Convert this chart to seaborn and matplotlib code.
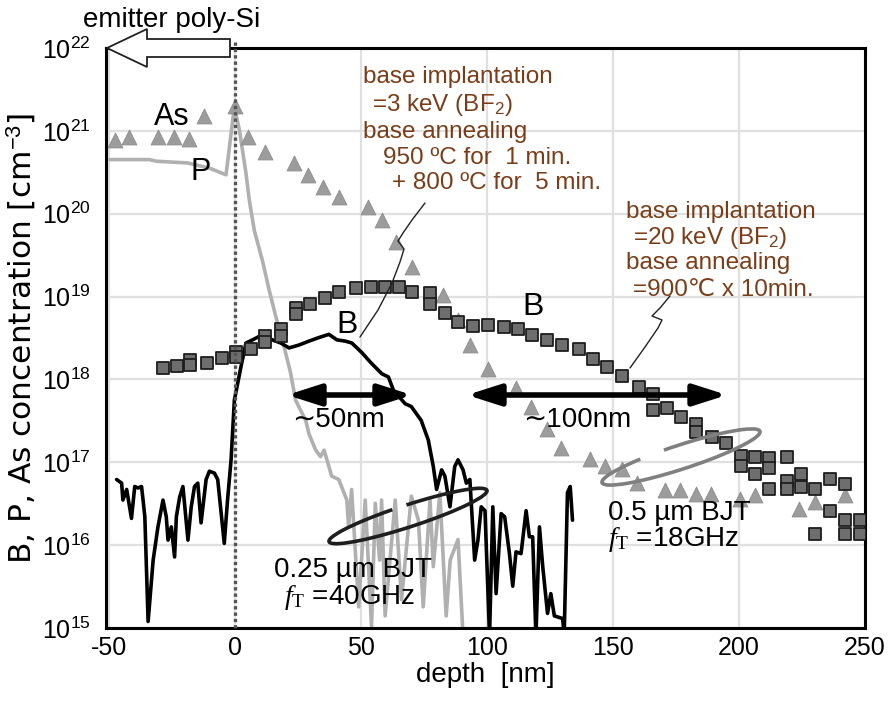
import matplotlib
matplotlib.use("Agg")
import matplotlib.pyplot as plt
import matplotlib.transforms as mtransforms
from matplotlib.patches import Arc, Polygon, FancyArrowPatch
from matplotlib.lines import Line2D
from matplotlib.ticker import MultipleLocator, LogLocator, NullFormatter
import seaborn as sns

# ---------------- data ----------------
as_depth = [-47.5, -42, -30.5, -24, -18, -12, 0, 5.5, 12, 23.5, 29, 35, 41.5,
            53, 58.5, 64, 70.5, 82.5, 88.5, 93.5, 100.5, 111.5, 117.5, 124,
            129.5, 141, 147, 153.5, 159.5, 170.5, 176.5, 183, 189, 200.5,
            206.5, 224, 230, 242]
as_conc = [7.8e20, 8.5e20, 8.5e20, 8.5e20, 7.9e20, 1.5e21, 2.0e21, 8.5e20,
           5.6e20, 4.1e20, 2.9e20, 2.1e20, 1.6e20, 1.2e20, 8.3e19, 4.6e19,
           2.3e19, 1.05e19, 5.2e18, 2.6e18, 1.35e18, 7.9e17, 4.6e17, 2.5e17,
           1.5e17, 1.1e17, 8.9e16, 8.3e16, 5.6e16, 4.6e16, 4.6e16, 4.1e16,
           4.1e16, 3.6e16, 4.0e16, 2.75e16, 3.3e16, 4.0e16]

b05_depth = [-28.5, -23, -17.5, -17.5, -11, -5, 0.5, 0.5, 6.5, 12, 12, 18.3,
             18.3, 24.5, 24.5, 30, 36, 41.5, 48, 54, 59.5, 65, 70.5, 77.5,
             77.5, 83.5, 88.5, 94.5, 100.5, 107, 112.5, 118, 124, 130, 136.5,
             142, 147.5, 153.5, 160.5, 166, 166, 171.5, 177, 183, 183, 189.5,
             195, 201, 201, 206.5, 206.5, 212, 212, 212, 219, 219, 219,
             224.5, 224.5, 230, 230, 236, 236, 242, 242, 242, 248, 248]
b05_conc = [1.38e18, 1.45e18, 1.7e18, 1.48e18, 1.58e18, 1.8e18, 2.15e18,
            1.85e18, 2.35e18, 3.3e18, 2.8e18, 4.1e18, 3.3e18, 7.2e18, 6.2e18,
            8.1e18, 9.5e18, 1.15e19, 1.26e19, 1.29e19, 1.29e19, 1.32e19,
            1.15e19, 1.1e19, 8.1e18, 6.3e18, 5.0e18, 4.4e18, 4.6e18, 4.3e18,
            4.1e18, 3.4e18, 3.0e18, 2.6e18, 2.3e18, 1.74e18, 1.41e18, 1.1e18,
            8.1e17, 6.6e17, 4.3e17, 4.5e17, 3.5e17, 2.9e17, 2.35e17, 2.0e17,
            1.7e17, 1.2e17, 9.1e16, 1.15e17, 7.2e16, 1.12e17, 8.5e16, 4.8e16,
            1.15e17, 6.0e16, 4.8e16, 7.2e16, 5.1e16, 4.8e16, 1.35e16, 6.3e16,
            2.6e16, 5.5e16, 2.0e16, 1.35e16, 2.0e16, 1.35e16]

b025_depth = [-46.8, -44.8, -44.3, -42.8, -40.9, -39.6, -38.3, -36.9, -36.3,
              -35.6, -34.3, -32.3, -30.4, -28.4, -27.1, -26.4, -25.1, -23.8,
              -23.1, -21.8, -20.5, -18.5, -17.2, -15.9, -14.6, -13.3, -11.3,
              -10.0, -8.0, -6.7, -4.1, -2.8, -1.4, -0.1, 2.5, 4.5, 7.1, 9.7,
              12.4, 15.0, 18.3, 21.6, 25.5, 29.5, 33.4, 37.4, 40.6, 43.9,
              46.5, 50.5, 54.4, 58.4, 61.0, 63.0, 67.6, 70.1, 74.0, 76.8,
              78.8, 80.1, 82.1, 83.4, 85.4, 87.3, 88.6, 90.6, 91.9, 93.3,
              95.2, 96.5, 97.8, 99.3, 101.1, 102.4, 103.7, 105.7, 107.1,
              109.0, 110.3, 111.6, 113.6, 115.6, 116.9, 118.2, 119.5, 120.9,
              122.2, 124.1, 125.4, 126.8, 130.1, 130.7, 132.0, 133.1, 134.0]
b025_conc = [6.2e16, 5.6e16, 3.5e16, 4.7e16, 2.1e16, 5.1e16, 4.9e16, 5.1e16,
             3.5e16, 2.2e16, 1.2e15, 6.6e15, 1.66e16, 3.5e16, 2.2e16, 1.15e16,
             1.66e16, 7.2e15, 2.2e16, 3.8e16, 5.1e16, 1.15e16, 2.9e16,
             5.1e16, 5.6e16, 1.86e16, 6.2e16, 7.8e16, 7.4e16, 6.2e16, 1.05e16,
             3.5e16, 1.07e17, 5.6e17, 1.41e18, 2.75e18, 3.0e18, 3.3e18,
             3.3e18, 3.0e18, 2.75e18, 2.4e18, 2.6e18, 2.9e18, 3.2e18, 3.5e18,
             3.0e18, 2.9e18, 2.75e18, 2.1e18, 1.55e18, 1.17e18, 1.07e18,
             7.4e17, 5.1e17, 4.7e17, 3.2e17, 1.86e17, 8.9e16, 4.7e16, 8.1e16,
             6.8e16, 2.9e16, 8.9e16, 1.07e17, 8.1e16, 5.6e16, 6.2e16, 6.6e15,
             1.15e16, 2.9e16, 2.6e16, 8.0e14, 2.9e16, 2.6e15, 2.4e16, 2.2e16,
             7.9e15, 3.2e15, 8.3e15, 7.9e15, 2.6e16, 1.26e16, 1.26e16, 8.0e14,
             1.66e16, 5.5e15, 1.5e15, 2.6e15, 1.4e15, 1.3e15, 8.0e14, 4.3e16,
             5.1e16, 2.0e16]

p_depth = [-49.4, -33.8, -31.0, -18.7, -10.0, -3.4, -0.1, 1.9, 4.5, 5.8, 7.8,
           11.0, 13.7, 16.3, 19.6, 22.2, 24.2, 28.2, 29.5, 32.1, 34.1, 35.5,
           37.4, 38.5, 41.3, 44.5, 45.2, 46.4, 49.2, 51.8, 54.3, 55.8, 57.5,
           58.3, 59.7, 63.7, 66.2, 70.1, 72.9, 74.8, 77.5, 78.8, 81.4, 83.9,
           85.5, 88.6, 90.6]
p_conc = [4.5e20, 4.5e20, 4.3e20, 4.1e20, 3.55e20, 2.95e20, 1.95e21, 1.02e21,
          3.1e20, 1.48e20, 6.3e19, 2.75e19, 1.2e19, 5.8e18, 2.5e18, 1.2e18,
          5.6e17, 3.2e17, 2.2e17, 1.41e17, 1.17e17, 1.4e17, 8.9e16, 6.8e16,
          6.2e16, 3.5e16, 1.66e16, 4.7e16, 1.8e15, 3.5e16, 1.05e15, 3.2e16,
          6.6e15, 3.5e16, 1.4e15, 3.5e16, 2.2e15, 3.9e16, 2.0e16, 1.8e15,
          3.5e16, 5.5e15, 4.3e16, 1.4e15, 6.6e15, 1.17e16, 8.0e14]

x_ticks = [-50, 0, 50, 100, 150, 200, 250]

# ---------------- style ----------------
sns.set_theme(style="white")
plt.rcParams['font.family'] = ['Liberation Sans', 'DejaVu Sans']
plt.rcParams['text.color'] = 'black'
plt.rcParams['axes.labelcolor'] = 'black'
plt.rcParams['axes.unicode_minus'] = False
plt.rcParams['mathtext.fontset'] = 'custom'
plt.rcParams['mathtext.rm'] = 'Liberation Serif'
plt.rcParams['mathtext.it'] = 'Liberation Serif:italic'
plt.rcParams['mathtext.sf'] = 'Liberation Sans'

W, H = 893, 704
fig = plt.figure(figsize=(W / 100, H / 100), dpi=100)
L, R, T, B = 106, 865, 48, 628
ax = fig.add_axes([L / W, 1 - B / H, (R - L) / W, (B - T) / H])


def fx(px):
    return px / W


def fy(py):
    return 1 - py / H


ax.set_yscale('log')

sns.lineplot(x=p_depth, y=p_conc, ax=ax, sort=False, estimator=None,
             color='#b0b0b0', lw=2.6, zorder=2)
sns.lineplot(x=b025_depth, y=b025_conc, ax=ax, sort=False, estimator=None,
             color='black', lw=2.6, zorder=3)
sns.scatterplot(x=as_depth, y=as_conc, ax=ax, marker='^', s=115,
                color='#9c9c9c', edgecolor='#8c8c8c', linewidth=0.6, zorder=4)
sns.scatterplot(x=b05_depth, y=b05_conc, ax=ax, marker='s', s=85,
                color='#6e6e6e', edgecolor='#1e1e1e', linewidth=1.3, zorder=5)

ax.set_xlim(-51, 248.5)
ax.set_ylim(1e15, 1e22)
ax.set_xticks(x_ticks)
ax.set_xticklabels([str(t) for t in x_ticks])
ax.xaxis.set_minor_locator(MultipleLocator(10))
ax.yaxis.set_major_locator(LogLocator(base=10, numticks=20))
ax.yaxis.set_minor_locator(LogLocator(base=10, subs=range(2, 10), numticks=100))
ax.yaxis.set_minor_formatter(NullFormatter())
ax.xaxis.get_offset_text().set_visible(False)
ax.yaxis.get_offset_text().set_visible(False)
ax.grid(True, which='major', color='#e0e0e0', lw=1.6)
ax.set_axisbelow(True)
ax.tick_params(axis='both', which='both', direction='in', top=False,
               right=False, colors='black', labelsize=18)
ax.tick_params(axis='both', which='major', length=7, width=1.6)
ax.tick_params(axis='x', which='major', pad=6)
ax.tick_params(axis='y', which='major', pad=11)
ax.tick_params(axis='both', which='minor', length=4, width=1.2)
for s in ax.spines.values():
    s.set_color('black')
    s.set_linewidth(2.2)

ax.set_xlabel('depth  [nm]', fontsize=20, labelpad=1)
ax.set_ylabel(r'B, P, As concentration [cm$^{\mathsf{-3}}$]', fontsize=22.5,
              family=['DejaVu Sans'], labelpad=3)

# dotted emitter boundary
ax.axvline(0, ymin=0, ymax=1.012, color='#555555', lw=2.4, ls=(0, (1.0, 0.9)),
           clip_on=False, zorder=6)

# emitter block arrow
arrow_pts = [(107, 48), (147, 29), (147, 39), (230, 39), (230, 57), (147, 57),
             (147, 67)]
fig.add_artist(Polygon([(fx(a), fy(b)) for a, b in arrow_pts], closed=True,
                       transform=fig.transFigure, fc='white', ec='#222222',
                       lw=1.3, zorder=10))
fig.text(fx(83), fy(27), 'emitter poly-Si', fontsize=20, ha='left',
         va='baseline')

# species labels
fig.text(fx(172), fy(117), 'As', fontsize=22, ha='center', va='center')
fig.text(fx(201), fy(172), 'P', fontsize=22, ha='center', va='center')
fig.text(fx(347), fy(325), 'B', fontsize=23, ha='center', va='center')
fig.text(fx(533), fy(307), 'B', fontsize=23, ha='center', va='center')

brown = '#7b3d18'
blk1 = [(363, 77, 'base implantation'), (372, 105, r'=3 keV (BF$_{\mathsf{2}}$)'),
        (363, 132, 'base annealing'), (383, 158, '950 ºC for  1 min.'),
        (392, 183, '+ 800 ºC for  5 min.')]
blk2 = [(626, 212, 'base implantation'), (633, 238, r'=20 keV (BF$_{\mathsf{2}}$)'),
        (626, 263, 'base annealing'), (633, 290, '=900℃ x 10min.')]
for xx, yy, tt in blk1 + blk2:
    fig.text(fx(xx), fy(yy), tt, fontsize=17.5, color=brown, ha='left',
             va='center')

# squiggly leader lines
lead1 = [(360, 337), (378, 310), (392, 283), (400, 262), (404, 249),
         (398, 241), (403, 233), (412, 220), (425, 203)]
lead2 = [(630, 368), (645, 347), (658, 328), (662, 320), (652, 316),
         (660, 308), (670, 296)]
for pts in (lead1, lead2):
    fig.add_artist(Line2D([fx(a) for a, _ in pts], [fy(b) for _, b in pts],
                          color='#222222', lw=1.0, transform=fig.transFigure,
                          zorder=8))

# double-headed width arrows
for x0, x1 in ((287, 412), (467, 727)):
    fig.add_artist(FancyArrowPatch(
        (fx(x0), fy(395)), (fx(x1), fy(395)), transform=fig.transFigure,
        arrowstyle='<|-|>,head_length=1.0,head_width=0.32', lw=4,
        color='black', shrinkA=0, shrinkB=0, mutation_scale=20, zorder=9))
fig.text(fx(292), fy(420), '∼50nm', fontsize=20, ha='left', va='center')
fig.text(fx(523), fy(420), '∼100nm', fontsize=20, ha='left', va='center')

# ellipses marking the two devices (display pixel coordinates)
ident = mtransforms.IdentityTransform()
fig.add_artist(Arc((408, H - 516), 166, 22, angle=18, theta1=140, theta2=80,
                   transform=ident, color='#1e1e1e', lw=2.6, zorder=9))
fig.add_artist(Arc((681, H - 457), 166, 24, angle=18, theta1=165, theta2=140,
                   transform=ident, color='#808080', lw=2.6, zorder=9))

fig.text(fx(353), fy(570), '0.25 µm BJT', fontsize=20, ha='center', va='center')
fig.text(fx(350), fy(597), r'$f_{\mathrm{T}}$ =40GHz', fontsize=20,
         ha='center', va='center')
fig.text(fx(608), fy(513), '0.5 µm BJT', fontsize=20, ha='left', va='center')
fig.text(fx(608), fy(540), r'$f_{\mathrm{T}}$ =18GHz', fontsize=20, ha='left',
         va='center')

fig.savefig('out.png', dpi=100, facecolor='white')
